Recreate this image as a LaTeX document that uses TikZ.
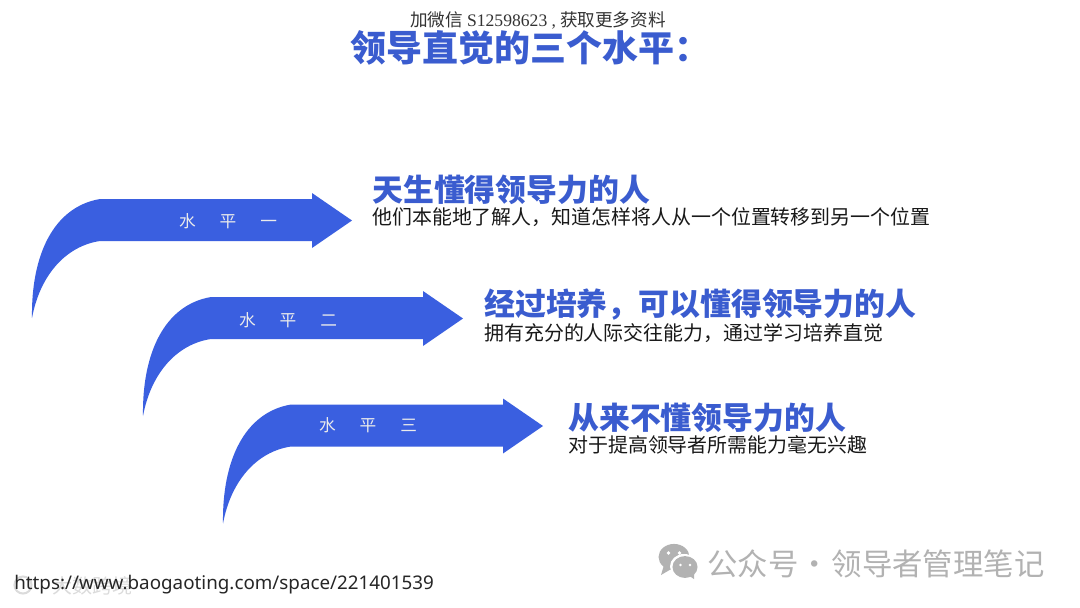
\documentclass[tikz,border=0pt]{standalone}
\usepackage{fontspec}
\setmainfont{Noto Sans CJK SC}
\newfontfamily\serifl{Liberation Serif}
\newfontfamily\urlf{Noto Sans}
\definecolor{arrowblue}{HTML}{3A5FE0}
\definecolor{titleblue}{HTML}{3A5CCF}
\definecolor{wmgray}{HTML}{B2B2B2}
\tikzset{
  bigarrow/.style={fill=arrowblue,draw=none},
  titletext/.style={text=titleblue,font=\fontsize{27}{30}\selectfont\bfseries,inner sep=0pt},
  headtext/.style={text=titleblue,font=\fontsize{23.15}{26}\selectfont\bfseries,anchor=west,inner sep=0pt},
  bodytext/.style={text=black!90,font=\fontsize{14.95}{18}\selectfont,anchor=west,inner sep=0pt},
  leveltext/.style={text=white!92!black,font=\fontsize{12.5}{14}\selectfont,inner sep=0pt},
  wmtext/.style={text=wmgray,inner sep=0pt},
}
\newcommand{\curvedarrow}[2]{%
\fill[bigarrow,shift={(#1*0.75pt,-#2*0.75pt)}] (32,318) .. controls (31,256) and (53,207) .. (100,199)
  -- (312,199) -- (312,193) -- (352,220.5) -- (312,248) -- (312,241) -- (100,241)
  .. controls (66,246) and (40,275) .. (32,318) -- cycle;}
\begin{document}
\begin{tikzpicture}[x=0.75pt,y=-0.75pt]
\useasboundingbox (0,0) rectangle (1080,607);
\fill[white] (0,0) rectangle (1080,607);
\node[inner sep=0pt,text=black!80,font=\fontsize{13.2}{15}\selectfont] (wechat) at (538,20.5) {加微信 {\serifl S12598623 ,} 获取更多资料};
\node[titletext] (title) at (530.5,48) {领导直觉的三个水平：};
\curvedarrow{0}{0}
\curvedarrow{111}{98}
\curvedarrow{191}{205.5}
\node[leveltext] (l1) at (228,221.5) {水\hspace{18pt}平\hspace{18pt}一};
\node[leveltext] (l2) at (288,320.5) {水\hspace{18pt}平\hspace{18pt}二};
\node[leveltext] (l3) at (368,425.5) {水\hspace{18pt}平\hspace{18pt}三};
\node[headtext] (h1) at (372,190) {天生懂得领导力的人};
\node[bodytext] (b1) at (372,217) {他们本能地了解人，知道怎样将人从一个位置转移到另一个位置};
\node[headtext] (h2) at (484,305) {经过培养，可以懂得领导力的人};
\node[bodytext] (b2) at (484,333) {拥有充分的人际交往能力，通过学习培养直觉};
\node[headtext] (h3) at (568,418) {从来不懂领导力的人};
\node[bodytext] (b3) at (568,445) {对于提高领导者所需能力毫无兴趣};
% faint watermark, bottom left
\node[text=black!14,inner sep=0pt,font=\fontsize{15}{18}\selectfont,anchor=west] (wm2) at (52,585.5) {大数跨境};
\draw[black!14,line width=1.5pt] (23,585) circle[radius=6.4pt];
\node[inner sep=0pt,anchor=west,text=black!85,font=\urlf\fontsize{14.1}{16}\selectfont] (url) at (14,585) {https://www.baogaoting.com/space/221401539};
% WeChat mark
\fill[wmgray] (674,557) ellipse[x radius=11.6pt,y radius=9.8pt];
\fill[wmgray] (664,565) -- (661,575) -- (673,568) -- cycle;
\fill[white] (684,566.5) ellipse[x radius=10.5pt,y radius=9.4pt];
\fill[wmgray] (685,567) ellipse[x radius=9.4pt,y radius=8.2pt];
\fill[wmgray] (688,575) -- (694,579) -- (694,571) -- cycle;
\fill[white] (668.5,553) circle[radius=1.4pt] (679.5,553) circle[radius=1.4pt] (680.5,565) circle[radius=1.1pt] (690,565) circle[radius=1.1pt];
\node[wmtext,anchor=west,font=\fontsize{22.8}{25}\selectfont] (wm) at (707,564) {公众号\makebox[25pt]{·}领导者管理笔记};
\end{tikzpicture}
\end{document}
